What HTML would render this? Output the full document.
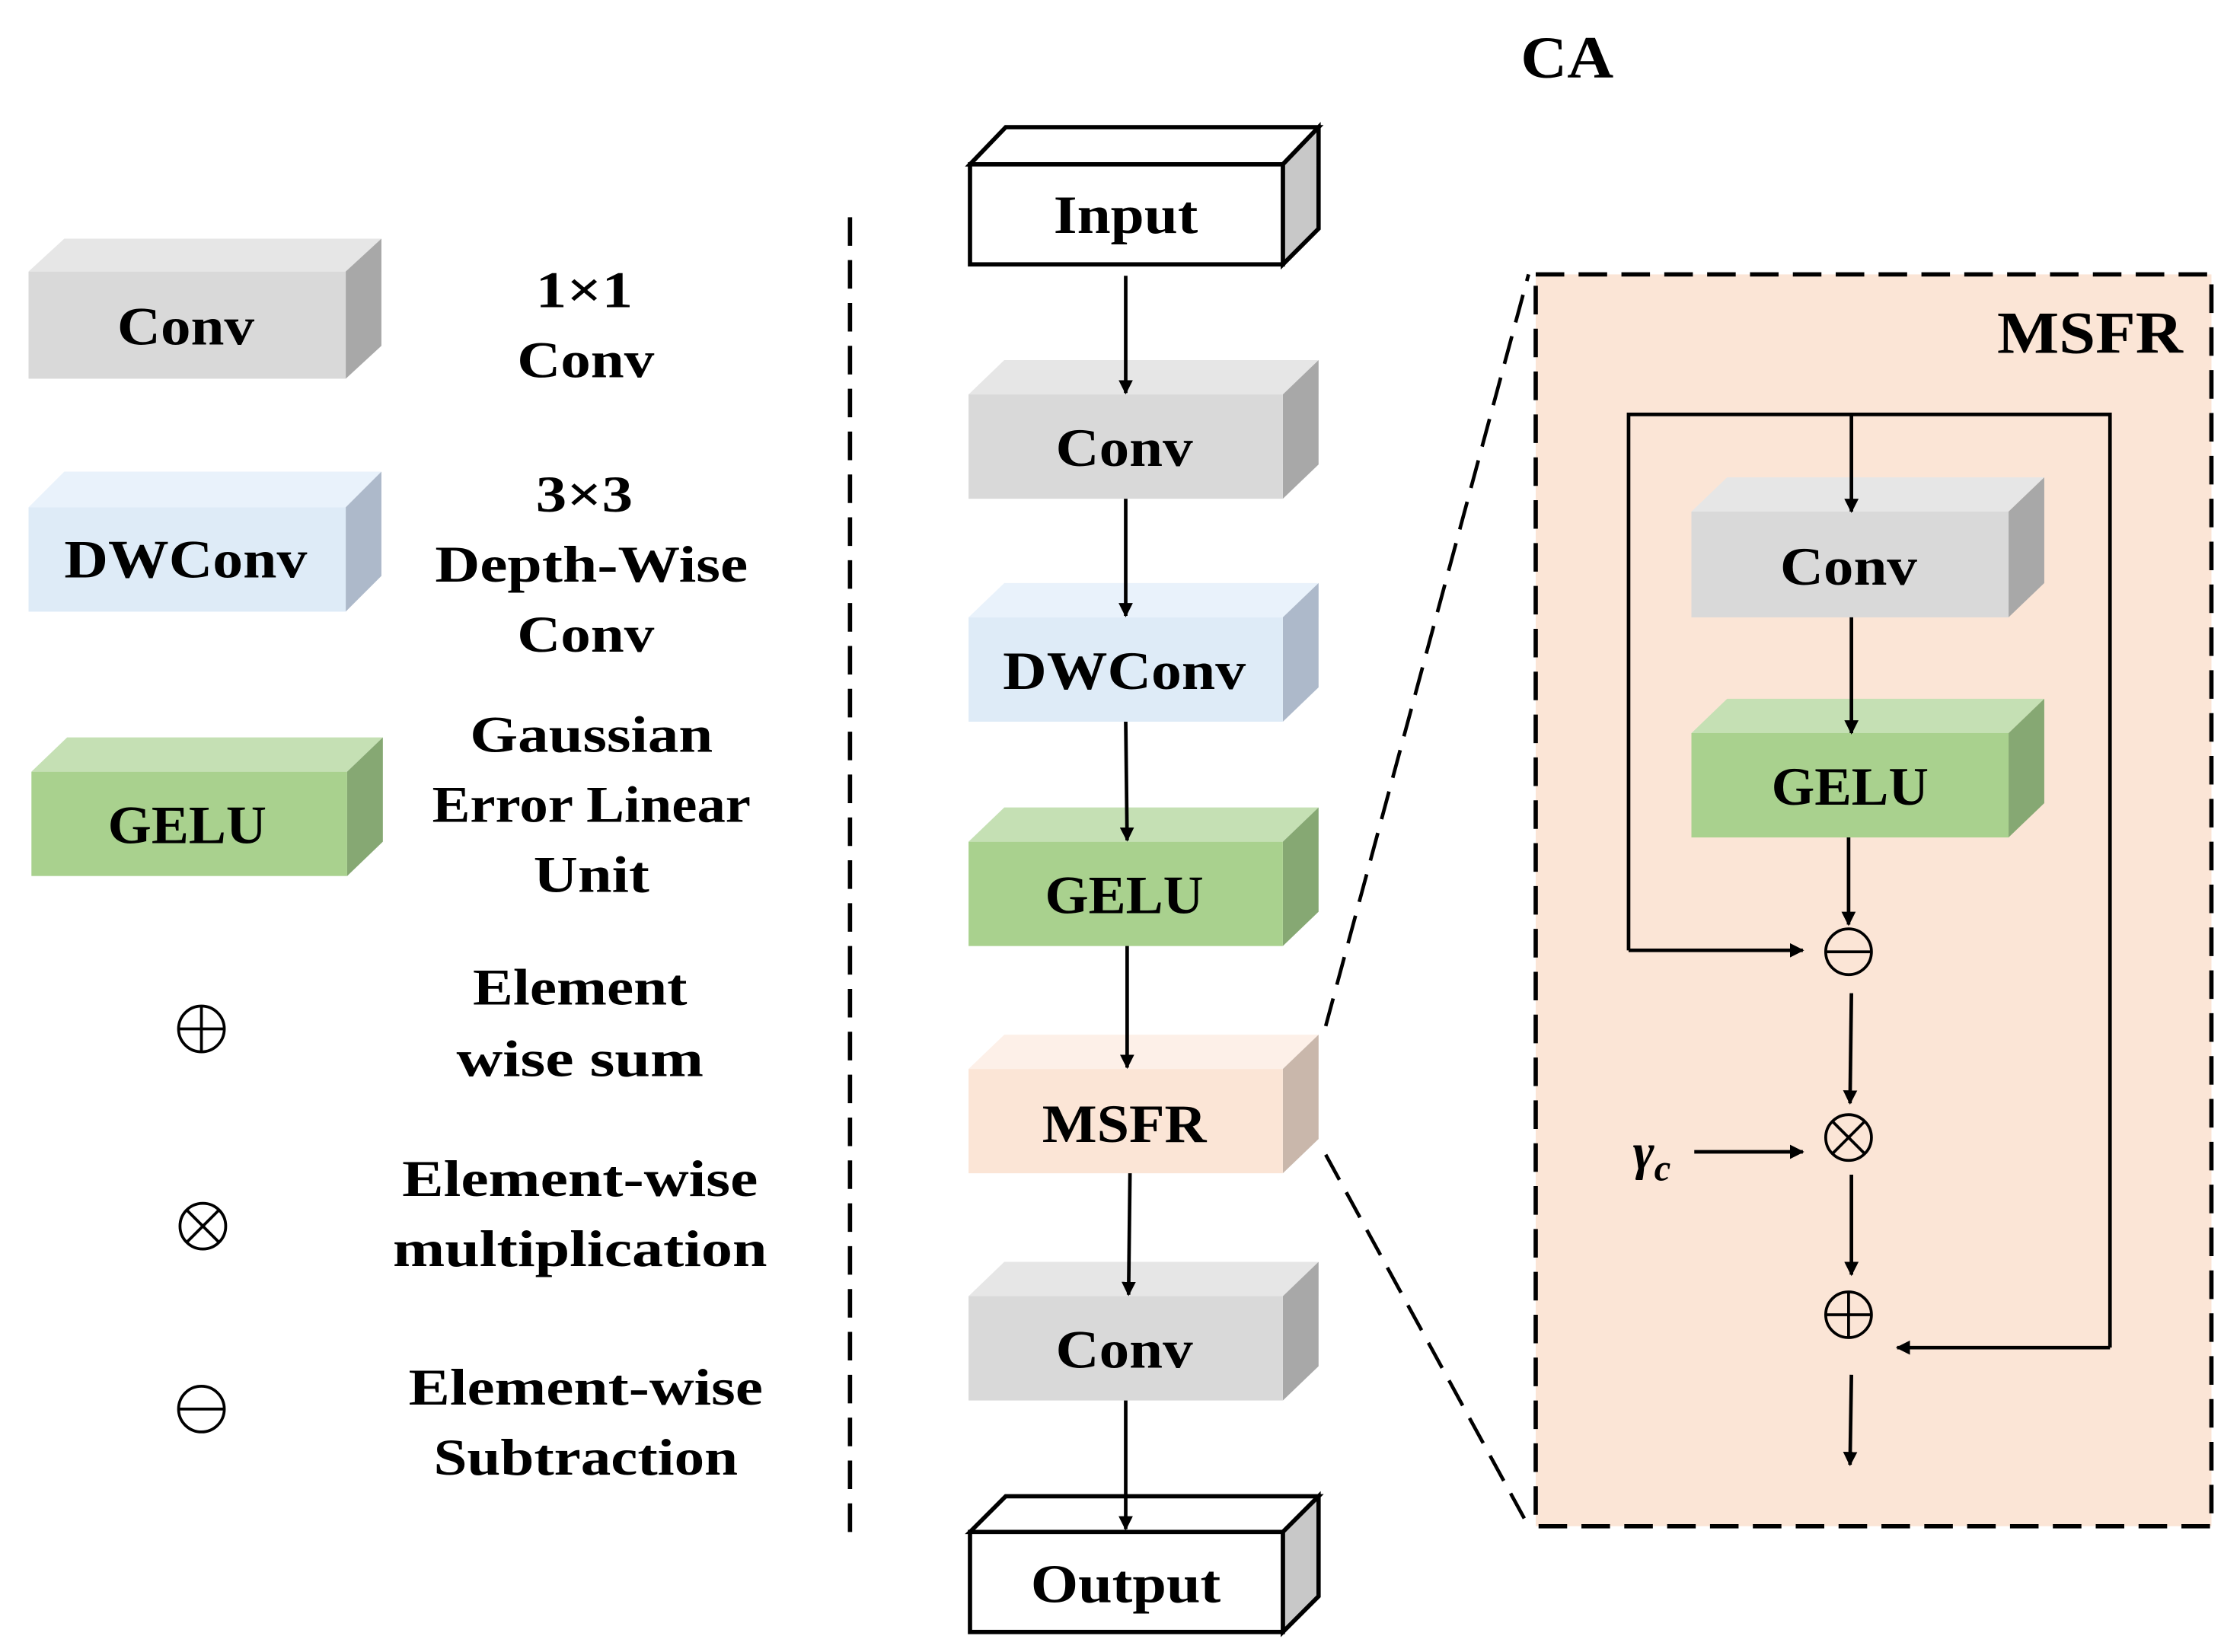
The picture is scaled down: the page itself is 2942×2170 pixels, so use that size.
<!DOCTYPE html>
<html><head><meta charset="utf-8"><style>
html,body{margin:0;padding:0;background:#fff;}
svg{display:block;}
text{font-family:"Liberation Serif",serif;font-weight:bold;fill:#000;}
</style></head><body>
<svg width="2942" height="2170" viewBox="0 0 1568 1156" preserveAspectRatio="none" xmlns="http://www.w3.org/2000/svg">
<defs>
<marker id="ar" markerWidth="10" markerHeight="10" refX="9" refY="5" orient="auto" markerUnits="userSpaceOnUse">
<path d="M0,0 L10,5 L0,10 z" fill="#000"/></marker>
</defs>
<rect width="1568" height="1156" fill="#fff"/>

<g>
<polygon points="20,190 45,167 267,167 242,190" fill="#e6e6e6"/>
<polygon points="242,190 267,167 267,242 242,265" fill="#a8a8a8"/>
<rect x="20" y="190" width="222" height="75" fill="#d9d9d9"/>
<text x="130" y="241" font-size="38" text-anchor="middle" textLength="96" lengthAdjust="spacingAndGlyphs">Conv</text>

<polygon points="20,355 45,330 267,330 242,355" fill="#e9f2fb"/>
<polygon points="242,355 267,330 267,403 242,428" fill="#adb9ca"/>
<rect x="20" y="355" width="222" height="73" fill="#deebf7"/>
<text x="130" y="404" font-size="38" text-anchor="middle" textLength="170" lengthAdjust="spacingAndGlyphs">DWConv</text>

<polygon points="22,540 47,516 268,516 243,540" fill="#c5e0b4"/>
<polygon points="243,540 268,516 268,589 243,613" fill="#86a873"/>
<rect x="22" y="540" width="221" height="73" fill="#a9d18e"/>
<text x="131" y="590" font-size="38" text-anchor="middle" textLength="111" lengthAdjust="spacingAndGlyphs">GELU</text>
</g>

<g fill="none" stroke="#000" stroke-width="2">
<circle cx="141" cy="720" r="16"/><line x1="125" y1="720" x2="157" y2="720"/><line x1="141" y1="704" x2="141" y2="736"/>
<circle cx="142" cy="858" r="16"/><line x1="131" y1="847" x2="153" y2="869"/><line x1="153" y1="847" x2="131" y2="869"/>
<circle cx="141" cy="986" r="16"/><line x1="125" y1="986" x2="157" y2="986"/>
</g>

<g font-size="36" text-anchor="middle" lengthAdjust="spacingAndGlyphs">
<text x="409" y="215" textLength="68" lengthAdjust="spacingAndGlyphs">1×1</text>
<text x="410" y="264" textLength="96" lengthAdjust="spacingAndGlyphs">Conv</text>
<text x="409" y="358" textLength="68" lengthAdjust="spacingAndGlyphs">3×3</text>
<text x="414" y="407" textLength="219" lengthAdjust="spacingAndGlyphs">Depth-Wise</text>
<text x="410" y="456" textLength="96" lengthAdjust="spacingAndGlyphs">Conv</text>
<text x="414" y="526" textLength="170" lengthAdjust="spacingAndGlyphs">Gaussian</text>
<text x="414" y="575" textLength="223" lengthAdjust="spacingAndGlyphs">Error Linear</text>
<text x="414" y="624" textLength="81" lengthAdjust="spacingAndGlyphs">Unit</text>
<text x="406" y="703" textLength="150" lengthAdjust="spacingAndGlyphs">Element</text>
<text x="406" y="753" textLength="173" lengthAdjust="spacingAndGlyphs">wise sum</text>
<text x="406" y="837" textLength="249" lengthAdjust="spacingAndGlyphs">Element-wise</text>
<text x="406" y="886" textLength="262" lengthAdjust="spacingAndGlyphs">multiplication</text>
<text x="410" y="983" textLength="248" lengthAdjust="spacingAndGlyphs">Element-wise</text>
<text x="410" y="1032" textLength="213" lengthAdjust="spacingAndGlyphs">Subtraction</text>
</g>

<line x1="595" y1="152" x2="595" y2="1075" stroke="#000" stroke-width="3" stroke-dasharray="20,10"/>

<text x="1097" y="54" font-size="42" text-anchor="middle" textLength="65" lengthAdjust="spacingAndGlyphs">CA</text>

<g>
<polygon points="679,115 704,89 923,89 898,115" fill="#fff" stroke="#000" stroke-width="3"/>
<polygon points="898,115 923,89 923,160 898,185" fill="#c8c8c8" stroke="#000" stroke-width="3"/>
<rect x="679" y="115" width="219" height="70" fill="#fff" stroke="#000" stroke-width="3"/>
<text x="788" y="163" font-size="38" text-anchor="middle" textLength="101" lengthAdjust="spacingAndGlyphs">Input</text>

<polygon points="678,276 703,252 923,252 898,276" fill="#e6e6e6"/>
<polygon points="898,276 923,252 923,325 898,349" fill="#a8a8a8"/>
<rect x="678" y="276" width="220" height="73" fill="#d9d9d9"/>
<text x="787" y="326" font-size="38" text-anchor="middle" textLength="96" lengthAdjust="spacingAndGlyphs">Conv</text>

<polygon points="678,432 703,408 923,408 898,432" fill="#e9f2fb"/>
<polygon points="898,432 923,408 923,481 898,505" fill="#adb9ca"/>
<rect x="678" y="432" width="220" height="73" fill="#deebf7"/>
<text x="787" y="482" font-size="38" text-anchor="middle" textLength="170" lengthAdjust="spacingAndGlyphs">DWConv</text>

<polygon points="678,589 703,565 923,565 898,589" fill="#c5e0b4"/>
<polygon points="898,589 923,565 923,638 898,662" fill="#86a873"/>
<rect x="678" y="589" width="220" height="73" fill="#a9d18e"/>
<text x="787" y="639" font-size="38" text-anchor="middle" textLength="111" lengthAdjust="spacingAndGlyphs">GELU</text>

<polygon points="678,748 703,724 923,724 898,748" fill="#fdf0e8"/>
<polygon points="898,748 923,724 923,797 898,821" fill="#c9b7ab"/>
<rect x="678" y="748" width="220" height="73" fill="#fbe5d6"/>
<text x="787" y="799" font-size="38" text-anchor="middle" textLength="115" lengthAdjust="spacingAndGlyphs">MSFR</text>

<polygon points="678,907 703,883 923,883 898,907" fill="#e6e6e6"/>
<polygon points="898,907 923,883 923,956 898,980" fill="#a8a8a8"/>
<rect x="678" y="907" width="220" height="73" fill="#d9d9d9"/>
<text x="787" y="957" font-size="38" text-anchor="middle" textLength="96" lengthAdjust="spacingAndGlyphs">Conv</text>

<polygon points="679,1072 704,1047 923,1047 898,1072" fill="#fff" stroke="#000" stroke-width="3"/>
<polygon points="898,1072 923,1047 923,1117 898,1142" fill="#c8c8c8" stroke="#000" stroke-width="3"/>
<rect x="679" y="1072" width="219" height="70" fill="#fff" stroke="#000" stroke-width="3"/>
<text x="788" y="1121" font-size="38" text-anchor="middle" textLength="133" lengthAdjust="spacingAndGlyphs">Output</text>
</g>

<g stroke="#000" stroke-width="2.5" marker-end="url(#ar)">
<line x1="788" y1="193" x2="788" y2="275"/>
<line x1="788" y1="349" x2="788" y2="431"/>
<line x1="788" y1="505" x2="789" y2="588"/>
<line x1="789" y1="662" x2="789" y2="747"/>
<line x1="791" y1="821" x2="790" y2="906"/>
<line x1="788" y1="980" x2="788" y2="1070"/>
</g>

<rect x="1075" y="192" width="473" height="876" fill="#fbe5d6" stroke="#000" stroke-width="3" stroke-dasharray="20,10"/>
<line x1="928" y1="718" x2="1070" y2="192" stroke="#000" stroke-width="2.5" stroke-dasharray="20,10"/>
<line x1="928" y1="808" x2="1070" y2="1068" stroke="#000" stroke-width="2.5" stroke-dasharray="20,10"/>
<text x="1463" y="247" font-size="42" text-anchor="middle" textLength="130" lengthAdjust="spacingAndGlyphs">MSFR</text>

<polygon points="1184,358 1209,334 1431,334 1406,358" fill="#e6e6e6"/>
<polygon points="1406,358 1431,334 1431,408 1406,432" fill="#a8a8a8"/>
<rect x="1184" y="358" width="222" height="74" fill="#d9d9d9"/>
<text x="1294" y="409" font-size="38" text-anchor="middle" textLength="96" lengthAdjust="spacingAndGlyphs">Conv</text>

<polygon points="1184,513 1209,489 1431,489 1406,513" fill="#c5e0b4"/>
<polygon points="1406,513 1431,489 1431,562 1406,586" fill="#86a873"/>
<rect x="1184" y="513" width="222" height="73" fill="#a9d18e"/>
<text x="1295" y="563" font-size="38" text-anchor="middle" textLength="110" lengthAdjust="spacingAndGlyphs">GELU</text>

<polyline points="1140,665 1140,290 1477,290 1477,943" fill="none" stroke="#000" stroke-width="2.5"/>
<g stroke="#000" stroke-width="2.5" marker-end="url(#ar)" fill="none">
<line x1="1140" y1="665" x2="1262" y2="665"/>
<line x1="1477" y1="943" x2="1328" y2="943"/>
<line x1="1296" y1="290" x2="1296" y2="358"/>
<line x1="1296" y1="432" x2="1296" y2="513"/>
<line x1="1294" y1="586" x2="1294" y2="647"/>
<line x1="1296" y1="695" x2="1295" y2="772"/>
<line x1="1186" y1="806" x2="1262" y2="806"/>
<line x1="1296" y1="822" x2="1296" y2="892"/>
<line x1="1296" y1="962" x2="1295" y2="1025"/>
</g>
<g fill="none" stroke="#000" stroke-width="2">
<circle cx="1294" cy="666" r="16"/><line x1="1278" y1="666" x2="1310" y2="666"/>
<circle cx="1294" cy="796" r="16"/><line x1="1283" y1="785" x2="1305" y2="807"/><line x1="1305" y1="785" x2="1283" y2="807"/>
<circle cx="1294" cy="920" r="16"/><line x1="1278" y1="920" x2="1310" y2="920"/><line x1="1294" y1="904" x2="1294" y2="936"/>
</g>
<text x="1143" y="818" font-size="36" font-style="italic" font-weight="normal">γ<tspan font-size="26" dy="8">c</tspan></text>
</svg>
</body></html>
